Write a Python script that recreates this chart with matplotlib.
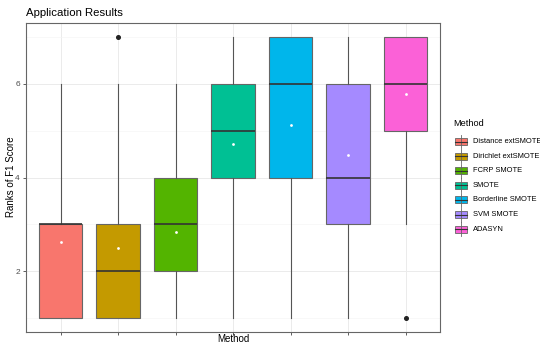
import matplotlib
matplotlib.use("Agg")
import matplotlib.pyplot as plt
from matplotlib.patches import Rectangle
from matplotlib.lines import Line2D

plt.rcParams['font.family'] = ['Liberation Sans', 'DejaVu Sans']

methods = ["Distance extSMOTE", "Dirichlet extSMOTE", "FCRP SMOTE", "SMOTE",
           "Borderline SMOTE", "SVM SMOTE", "ADASYN"]
colors = ["#F8766D", "#C49A00", "#53B400", "#00C094", "#00B6EB", "#A58AFF", "#FB61D7"]

q1 = [1, 1, 2, 4, 4, 3, 5]
median = [3, 2, 3, 5, 6, 4, 6]
q3 = [3, 3, 4, 6, 7, 6, 7]
whisker_low = [1, 1, 1, 1, 1, 1, 3]
whisker_high = [6, 6, 6, 7, 7, 7, 7]
means = [2.62, 2.49, 2.83, 4.71, 5.12, 4.49, 5.79]
outliers = [[], [7], [], [], [], [], [1]]

W, H = 540, 345
fig = plt.figure(figsize=(W / 100, H / 100), dpi=100)
ax = fig.add_axes([26 / W, 1 - 332 / H, (440 - 26) / W, (332 - 23) / H])

positions = list(range(1, len(methods) + 1))
stats = []
for i in range(len(methods)):
    stats.append(dict(med=median[i], q1=q1[i], q3=q3[i],
                      whislo=whisker_low[i], whishi=whisker_high[i],
                      fliers=outliers[i], label=methods[i]))

bp = ax.bxp(stats, positions=positions, widths=0.75, patch_artist=True,
            showcaps=False, showfliers=True, zorder=3,
            boxprops=dict(edgecolor="#666666", linewidth=0.8),
            medianprops=dict(color="#333333", linewidth=1.2),
            whiskerprops=dict(color="#555555", linewidth=0.8),
            flierprops=dict(marker="o", markersize=2.6, markerfacecolor="#222222",
                            markeredgecolor="#222222"))
for patch, c in zip(bp["boxes"], colors):
    patch.set_facecolor(c)

ax.scatter(positions, means, s=4, color="white", zorder=5, linewidths=0)

ax.set_xlim(0.4, 7.6)
ax.set_ylim(0.7, 7.3)
ax.set_yticks([2, 4, 6])
ax.set_yticks([1, 3, 5, 7], minor=True)
ax.set_xticks(positions)
ax.set_xticklabels([])
ax.tick_params(axis="both", which="major", length=2.5, width=0.6, color="#444444",
               labelsize=6, labelcolor="#4D4D4D", pad=2)
ax.tick_params(axis="y", which="minor", length=0)
ax.grid(True, which="major", color="#EBEBEB", linewidth=0.7, zorder=0)
ax.grid(True, which="minor", axis="y", color="#F4F4F4", linewidth=0.4, zorder=0)
ax.set_axisbelow(True)
for s in ax.spines.values():
    s.set_color("#666666")
    s.set_linewidth(0.8)

fig.text(11 / W, 1 - 177 / H, "Ranks of F1 Score", fontsize=7, ha="center",
         va="center", rotation=90)
fig.text(233 / W, 1 - 339.5 / H, "Method", fontsize=7, ha="center", va="center")
fig.text(26 / W, 1 - 13 / H, "Application Results", fontsize=8.2, ha="left", va="center")

# legend drawn as boxplot keys
fig.text(453 / W, 1 - 124 / H, "Method", fontsize=6.6, ha="left", va="center")
row0 = 141.5
step = 14.6
for i, (name, c) in enumerate(zip(methods, colors)):
    yc = row0 + i * step
    x0, x1 = 455, 467
    xm = (x0 + x1) / 2
    fig.add_artist(Line2D([xm / W, xm / W], [1 - (yc - 7) / H, 1 - (yc + 7) / H],
                          color="#666666", linewidth=0.6))
    fig.add_artist(Rectangle((x0 / W, 1 - (yc + 3.5) / H), (x1 - x0) / W, 7 / H,
                             facecolor=c, edgecolor="#666666", linewidth=0.6))
    fig.add_artist(Line2D([x0 / W, x1 / W], [1 - yc / H, 1 - yc / H],
                          color="#333333", linewidth=0.8))
    fig.text(473 / W, 1 - yc / H, name, fontsize=5.4, ha="left", va="center")

fig.savefig("out.png", dpi=100)
